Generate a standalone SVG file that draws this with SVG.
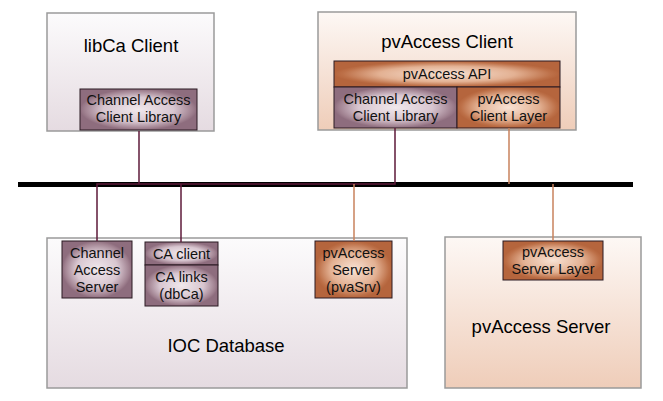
<svg xmlns="http://www.w3.org/2000/svg" width="663" height="401" viewBox="0 0 663 401">
<style>
.outer{stroke:#9a9a9a;stroke-width:1.5}
.inner{stroke:#2a1a22;stroke-width:1}
.title{font-family:"Liberation Sans",Arial,sans-serif;font-size:18.5px;fill:#000;text-anchor:middle}
.lbl{font-family:"Liberation Sans",Arial,sans-serif;font-size:14.5px;fill:#111;text-anchor:middle}
.ca{stroke:#5e1a3a;stroke-width:1.5;fill:none}
.pva{stroke:#c9825c;stroke-width:1.5;fill:none}
</style>
<defs>
<linearGradient id="gLav" x1="0" y1="0" x2="0" y2="1">
<stop offset="0" stop-color="#fcfbfc"/><stop offset="1" stop-color="#e5dbe1"/>
</linearGradient>
<linearGradient id="gPeach" x1="0" y1="0" x2="0" y2="1">
<stop offset="0" stop-color="#fdf8f5"/><stop offset="1" stop-color="#efcdb9"/>
</linearGradient>
<radialGradient id="rPur" cx="0.5" cy="0.5" r="0.5">
<stop offset="0" stop-color="#f0e8ec"/><stop offset="0.6" stop-color="#d8c6d0"/><stop offset="0.92" stop-color="#a08190"/><stop offset="1" stop-color="#8e6d7e"/>
</radialGradient>
<radialGradient id="rOr" cx="0.5" cy="0.5" r="0.5">
<stop offset="0" stop-color="#f8e2d4"/><stop offset="0.6" stop-color="#e3b193"/><stop offset="0.92" stop-color="#bd7048"/><stop offset="1" stop-color="#b5653d"/>
</radialGradient>
</defs>

<g id="libca-client">
<rect class="outer" x="47" y="13" width="167" height="118" fill="url(#gLav)"/>
<text class="title" x="131" y="52">libCa Client</text>
</g>
<g id="libca-ca-lib">
<rect class="inner" x="80" y="89" width="117" height="41" fill="url(#rPur)"/>
<text class="lbl" x="138.5" y="105">Channel Access</text>
<text class="lbl" x="138.5" y="122">Client Library</text>
</g>

<g id="pva-client">
<rect class="outer" x="318" y="12" width="258" height="118" fill="url(#gPeach)"/>
<text class="title" x="447" y="48">pvAccess Client</text>
</g>
<g id="pva-api">
<rect class="inner" x="334" y="61" width="226" height="26" fill="url(#rOr)"/>
<text class="lbl" x="447" y="79">pvAccess API</text>
</g>
<g id="pva-ca-lib">
<rect class="inner" x="334" y="87" width="123" height="41" fill="url(#rPur)"/>
<text class="lbl" x="395.5" y="104">Channel Access</text>
<text class="lbl" x="395.5" y="121">Client Library</text>
</g>
<g id="pva-client-layer">
<rect class="inner" x="457" y="87" width="103" height="41" fill="url(#rOr)"/>
<text class="lbl" x="508.5" y="104">pvAccess</text>
<text class="lbl" x="508.5" y="121">Client Layer</text>
</g>

<g id="ioc-db">
<rect class="outer" x="47" y="238" width="360" height="150" fill="url(#gLav)"/>
<text class="title" x="226" y="352">IOC Database</text>
</g>
<g id="ca-server">
<rect class="inner" x="62" y="241" width="70" height="57" fill="url(#rPur)"/>
<text class="lbl" x="97" y="258">Channel</text>
<text class="lbl" x="97" y="275">Access</text>
<text class="lbl" x="97" y="292">Server</text>
</g>
<g id="ca-client">
<rect class="inner" x="145" y="242" width="73" height="23" fill="url(#rPur)"/>
<text class="lbl" x="181.5" y="259">CA client</text>
</g>
<g id="ca-links">
<rect class="inner" x="145" y="265" width="73" height="41" fill="url(#rPur)"/>
<text class="lbl" x="181.5" y="282">CA links</text>
<text class="lbl" x="181.5" y="299">(dbCa)</text>
</g>
<g id="pvasrv">
<rect class="inner" x="315" y="241" width="77" height="57" fill="url(#rOr)"/>
<text class="lbl" x="353.5" y="258">pvAccess</text>
<text class="lbl" x="353.5" y="275">Server</text>
<text class="lbl" x="353.5" y="292">(pvaSrv)</text>
</g>

<g id="pva-server">
<rect class="outer" x="445" y="237" width="196" height="151" fill="url(#gPeach)"/>
<text class="title" x="541" y="333">pvAccess Server</text>
</g>
<g id="pva-server-layer">
<rect class="inner" x="503" y="241" width="100" height="39" fill="url(#rOr)"/>
<text class="lbl" x="553" y="257">pvAccess</text>
<text class="lbl" x="553" y="274">Server Layer</text>
</g>

<g id="connectors">
<rect id="bus" x="18" y="182" width="615" height="5" fill="#000"/>
<path class="ca" d="M139 131V184"/>
<path class="ca" d="M395 128V184H97V241"/>
<path class="ca" d="M181 184V242"/>
<path class="pva" d="M509 128V184"/>
<path class="pva" d="M354 184V241"/>
<path class="pva" d="M553 184V241"/>
</g>
</svg>
